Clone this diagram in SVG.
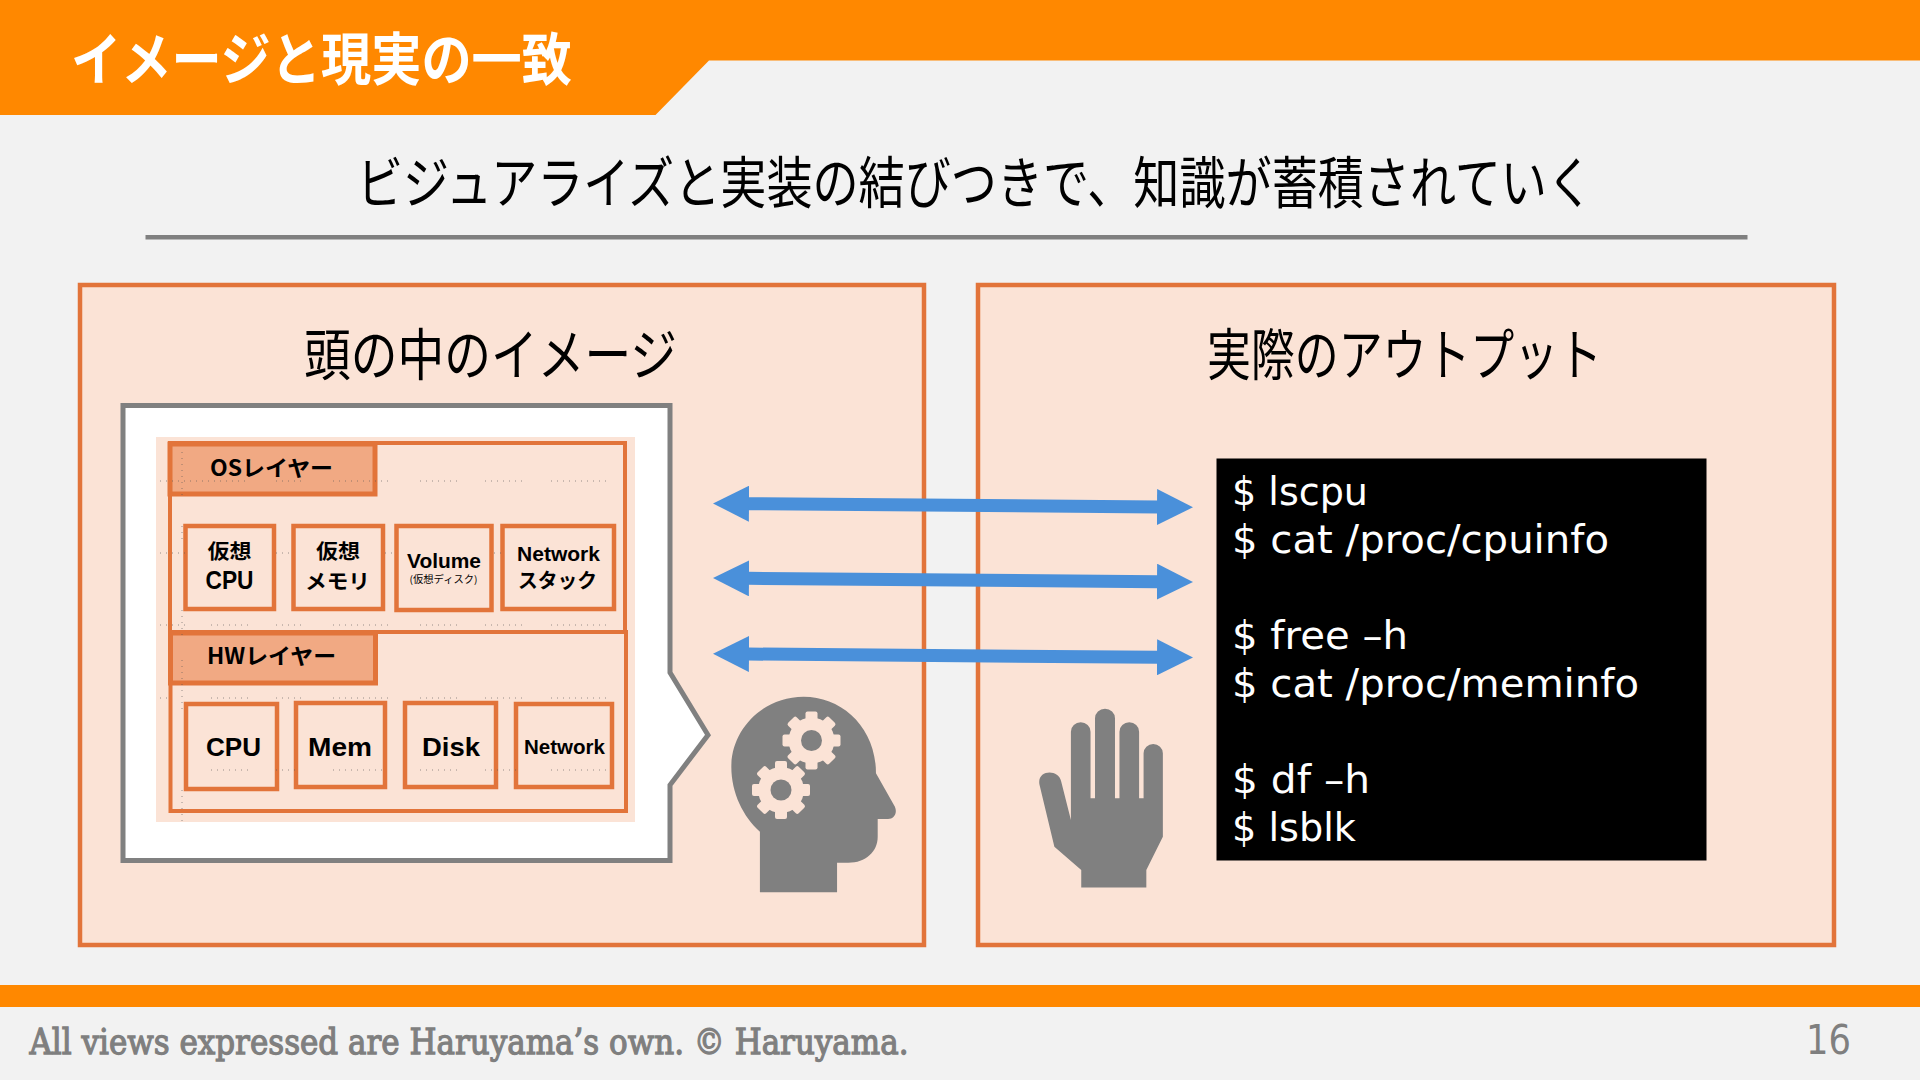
<svg xmlns="http://www.w3.org/2000/svg" xmlns:xlink="http://www.w3.org/1999/xlink" width="1920" height="1080" viewBox="0 0 1920 1080">
<style>
text{font-family:"Noto Sans CJK JP","Noto Sans",sans-serif;fill:#000}
.h{font-size:56px;font-weight:400}
.b{font-weight:700;font-size:20.5px}
.l{font-family:"Liberation Sans",sans-serif;font-weight:700;font-size:25px}
.box{fill:#FBE3D6;stroke:#E2743A;stroke-width:4.5}
.lab{fill:#F1A983;stroke:#E2743A;stroke-width:5}
.panel{fill:#FBE3D6;stroke:#E2743A;stroke-width:4.5}
.term{font-family:"DejaVu Sans",sans-serif;font-size:39px;fill:#fff}
.ico{fill:#808080}
</style>
<defs>
<marker id="ah" markerUnits="userSpaceOnUse" markerWidth="38" markerHeight="36" refX="1" refY="18" orient="auto-start-reverse"><polygon points="0,0 36,18 0,36" fill="#4A90DA"/></marker>
<g id="gear"><circle r="23" fill="#FBE3D6"/><g fill="#FBE3D6"><rect x="-6" y="-29" width="12" height="12" rx="2"/><rect x="-6" y="-29" width="12" height="12" rx="2" transform="rotate(45)"/><rect x="-6" y="-29" width="12" height="12" rx="2" transform="rotate(90)"/><rect x="-6" y="-29" width="12" height="12" rx="2" transform="rotate(135)"/><rect x="-6" y="-29" width="12" height="12" rx="2" transform="rotate(180)"/><rect x="-6" y="-29" width="12" height="12" rx="2" transform="rotate(225)"/><rect x="-6" y="-29" width="12" height="12" rx="2" transform="rotate(270)"/><rect x="-6" y="-29" width="12" height="12" rx="2" transform="rotate(315)"/></g><circle r="10.5" fill="#808080"/></g>
</defs>
<rect width="1920" height="1080" fill="#F2F2F2"/>
<g id="header">
<polygon points="0,0 1920,0 1920,60.5 709,60.5 655.5,115 0,115" fill="#FF8800"/>
<text x="71" y="80" font-size="57" font-weight="700" style="fill:#fff" textLength="501" lengthAdjust="spacingAndGlyphs">イメージと現実の一致</text>
</g>
<g id="subtitle">
<text class="h" x="357" y="203" textLength="1236" lengthAdjust="spacingAndGlyphs">ビジュアライズと実装の結びつきで、知識が蓄積されていく</text>
<rect x="145.5" y="235" width="1602" height="4.5" fill="#808080"/>
</g>
<g id="panel-left">
<rect class="panel" x="80" y="285" width="844" height="660"/>
<text class="h" x="304" y="375" textLength="373" lengthAdjust="spacingAndGlyphs">頭の中のイメージ</text>
</g>
<g id="panel-right">
<rect class="panel" x="978" y="285" width="856" height="660"/>
<text class="h" x="1207" y="375" textLength="395" lengthAdjust="spacingAndGlyphs">実際のアウトプット</text>
</g>
<g id="bubble">
<polygon points="123,405.5 670,405.5 670,672.5 708,735 670,785 670,860.5 123,860.5" fill="#fff" stroke="#808080" stroke-width="5"/>
<rect x="156" y="437" width="479" height="385" fill="#FBE3D6"/>
</g>
<g id="os-layer">
<rect x="170" y="443" width="455" height="189" fill="none" stroke="#E2743A" stroke-width="4"/>
<rect class="lab" x="170" y="444" width="205" height="50"/>
<text x="210" y="476" style="font-size:22px;font-weight:700" textLength="123" lengthAdjust="spacingAndGlyphs">OSレイヤー</text>
</g>
<g id="os-vcpu"><rect class="box" x="185.5" y="526" width="88.500" height="83"/>
<text class="b" x="207.500" y="559" textLength="44" lengthAdjust="spacingAndGlyphs">仮想</text>
<text class="l" x="205.500" y="589" textLength="48" lengthAdjust="spacingAndGlyphs">CPU</text></g>
<g id="os-vmem"><rect class="box" x="293.5" y="526" width="89.500" height="83"/>
<text class="b" x="316" y="559" textLength="44" lengthAdjust="spacingAndGlyphs">仮想</text>
<text class="b" x="305" y="589" textLength="65" lengthAdjust="spacingAndGlyphs">メモリ</text></g>
<g id="os-volume"><rect class="box" x="396.5" y="526" width="95" height="84"/>
<text class="l" x="407" y="568" style="font-size:21px" textLength="74" lengthAdjust="spacingAndGlyphs">Volume</text>
<text x="409.5" y="583" style="font-size:10px" textLength="68" lengthAdjust="spacingAndGlyphs">(仮想ディスク)</text></g>
<g id="os-net"><rect class="box" x="502.5" y="526" width="111.500" height="83"/>
<text class="l" x="517" y="561" style="font-size:21px" textLength="83" lengthAdjust="spacingAndGlyphs">Network</text>
<text class="b" x="518" y="588" textLength="79" lengthAdjust="spacingAndGlyphs">スタック</text></g>
<g id="hw-layer">
<rect x="170.5" y="632" width="455.500" height="179" fill="none" stroke="#E2743A" stroke-width="4"/>
<rect class="lab" x="170.5" y="633" width="205" height="50"/>
<text x="207" y="664" style="font-size:22px;font-weight:700" textLength="129" lengthAdjust="spacingAndGlyphs">HWレイヤー</text>
</g>
<g id="hw-cpu"><rect class="box" x="186" y="704" width="91" height="85"/>
<text class="l" x="206" y="756" textLength="55" lengthAdjust="spacingAndGlyphs">CPU</text></g>
<g id="hw-mem"><rect class="box" x="296" y="703" width="89" height="84"/>
<text class="l" x="308" y="756" textLength="64" lengthAdjust="spacingAndGlyphs">Mem</text></g>
<g id="hw-disk"><rect class="box" x="405" y="703" width="91" height="84"/>
<text class="l" x="422" y="756" textLength="58" lengthAdjust="spacingAndGlyphs">Disk</text></g>
<g id="hw-net"><rect class="box" x="516" y="704" width="96" height="83"/>
<text class="l" x="524" y="754" style="font-size:19.5px" textLength="81" lengthAdjust="spacingAndGlyphs">Network</text></g>
<path id="grid-dots" fill="none" stroke="#555" stroke-width="1" stroke-dasharray="1 5" opacity=".6" d="M160 481H248M276 481H306M333 481H393M420 481H458M485 481H523M551 481H610M160 553H185M276 553H293M385 553H396M494 553H502M160 625H185M211 625H248M276 625H306M333 625H393M420 625H458M485 625H523M551 625H610M160 698H170M211 698H248M276 698H306M333 698H393M420 698H458M485 698H523M551 698H610M211 770H248M276 770H296M333 770H385M420 770H458M485 770H516M551 770H610M182 452V500M182 526V540M182 610V640M182 660V710M182 790V825"/>
<g id="head">
<path class="ico" transform="translate(690 470) scale(.3444 .3333)" d="M203 1267H427V1178H460C510 1178 545 1145 545 1100V1047H575C592 1047 603 1030 595 1010L540 910C540 770 440 680 330 680C210 680 120 780 120 890C120 970 155 1040 203 1085Z"/>
<use xlink:href="#gear" href="#gear" transform="translate(811.5 740.5)"/>
<use xlink:href="#gear" href="#gear" transform="translate(781 790)"/>
</g>
<g id="hand">
<path class="ico" transform="translate(690 470) scale(.3444 .3333)" d="M1136 1253H1325V1200L1373 1100V850A28 28 0 0 0 1317 850V985H1304V785A28.500 28 0 0 0 1247 785V985H1234V745A29 29 0 0 0 1176 745V985H1163V785A28.500 28 0 0 0 1106 785V1050L1078 935C1070 895 1005 900 1015 945L1058 1130L1136 1200Z"/>
</g>
<g id="terminal">
<rect x="1216.500" y="458.500" width="490" height="402" fill="#000"/>
<text class="term" x="1232" y="505" textLength="136" lengthAdjust="spacingAndGlyphs">$ lscpu</text>
<text class="term" x="1232" y="553" textLength="377" lengthAdjust="spacingAndGlyphs">$ cat /proc/cpuinfo</text>
<text class="term" x="1232" y="649" textLength="176" lengthAdjust="spacingAndGlyphs">$ free –h</text>
<text class="term" x="1232" y="697" textLength="407" lengthAdjust="spacingAndGlyphs">$ cat /proc/meminfo</text>
<text class="term" x="1232" y="793" textLength="138" lengthAdjust="spacingAndGlyphs">$ df –h</text>
<text class="term" x="1232" y="841" textLength="124" lengthAdjust="spacingAndGlyphs">$ lsblk</text>
</g>
<g id="connectors" fill="none" stroke="#4A90DA" stroke-width="13">
<line x1="748" y1="503.700" x2="1158" y2="507" marker-start="url(#ah)" marker-end="url(#ah)"/>
<line x1="748" y1="578.300" x2="1158" y2="581.700" marker-start="url(#ah)" marker-end="url(#ah)"/>
<line x1="748" y1="654" x2="1158" y2="657.300" marker-start="url(#ah)" marker-end="url(#ah)"/>
</g>
<g id="footer">
<rect x="0" y="985" width="1920" height="22" fill="#FF8800"/>
<text x="29.500" y="1054" style="font-family:'DejaVu Serif',serif;font-size:36px;fill:#7F7F7F;stroke:#7F7F7F;stroke-width:1.300px" textLength="879" lengthAdjust="spacingAndGlyphs">All views expressed are Haruyama’s own. © Haruyama.</text>
<text x="1806" y="1054" style="font-family:'DejaVu Sans',sans-serif;font-size:41px;fill:#7F7F7F" textLength="45" lengthAdjust="spacingAndGlyphs">16</text>
</g>
</svg>
